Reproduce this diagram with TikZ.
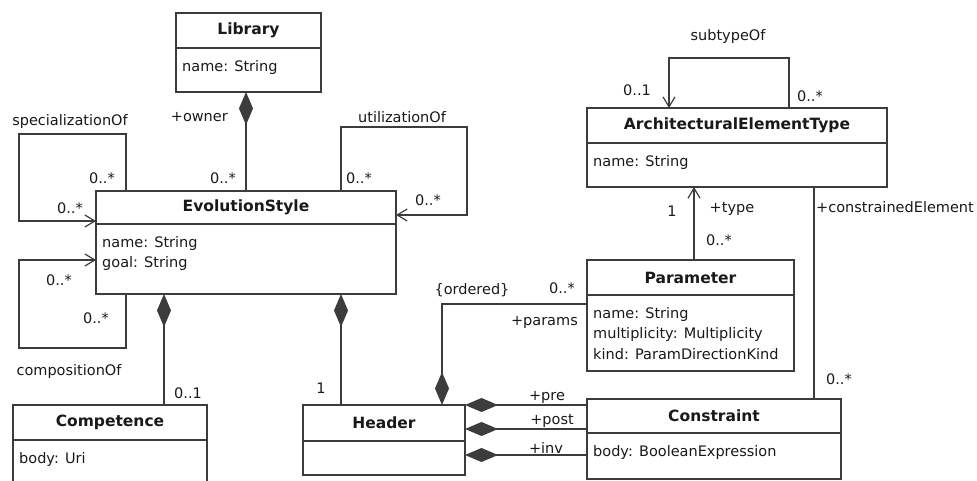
\documentclass[tikz,border=0pt]{standalone}
\usepackage{fontspec}
\setmainfont{DejaVu Sans}
\usepackage{xcolor}
\usepackage{tikz}
\usetikzlibrary{arrows.meta, positioning, calc}
\definecolor{uml_line}{RGB}{60, 60, 60}
\definecolor{uml_text}{RGB}{25, 25, 25}

\tikzset{
  class_head/.style={draw=uml_line, line width=1.2pt, inner sep=0pt, outer sep=0pt, text=uml_text, font=\fontsize{15.5}{18}\selectfont\bfseries},
  class_body/.style={draw=uml_line, line width=1.2pt, inner sep=0pt, outer sep=0pt},
  attr_text/.style={anchor=north west, inner xsep=6pt, inner ysep=12pt, align=left, text=uml_text, font=\fontsize{14.5}{20.5}\selectfont},
  role_text/.style={inner sep=0pt, text=uml_text, font=\fontsize{14.5}{17}\selectfont},
  assoc/.style={draw=uml_line, line width=1.2pt},
  composite/.style={assoc, {Diamond[fill=uml_line, length=33pt, width=14pt]}-},
  navigable/.style={assoc, -{Straight Barb[length=10pt, width=12pt]}},
}

\begin{document}
\begin{tikzpicture}[x=1pt, y=-1pt]
  \path[use as bounding box, clip] (0,0) rectangle (977,481);

  % classes
  \node[class_head, minimum width=145pt, minimum height=35pt, anchor=north west] (lib_head) at (176,13) {Library};
  \node[class_body, minimum width=145pt, minimum height=44pt, below=0pt of lib_head] (lib_body) {};
  \node[attr_text] (lib_attr) at (lib_body.north west) {name: String};

  \node[class_head, minimum width=300pt, minimum height=33pt, anchor=north west] (es_head) at (96,191) {EvolutionStyle};
  \node[class_body, minimum width=300pt, minimum height=70pt, below=0pt of es_head] (es_body) {};
  \node[attr_text] (es_attr) at (es_body.north west) {name: String\\goal: String};

  \node[class_head, minimum width=300pt, minimum height=35pt, anchor=north west] (aet_head) at (587,108) {ArchitecturalElementType};
  \node[class_body, minimum width=300pt, minimum height=44pt, below=0pt of aet_head] (aet_body) {};
  \node[attr_text] (aet_attr) at (aet_body.north west) {name: String};

  \node[class_head, minimum width=207pt, minimum height=35pt, anchor=north west] (par_head) at (587,260) {Parameter};
  \node[class_body, minimum width=207pt, minimum height=76pt, below=0pt of par_head] (par_body) {};
  \node[attr_text] (par_attr) at (par_body.north west) {name: String\\multiplicity: Multiplicity\\kind: ParamDirectionKind};

  \node[class_head, minimum width=194pt, minimum height=35pt, anchor=north west] (comp_head) at (13,405) {Competence};
  \node[class_body, minimum width=194pt, minimum height=80pt, below=0pt of comp_head] (comp_body) {};
  \node[attr_text] (comp_attr) at (comp_body.north west) {body: Uri};

  \node[class_head, minimum width=162pt, minimum height=36pt, anchor=north west] (hdr_head) at (303,405) {Header};
  \node[class_body, minimum width=162pt, minimum height=34pt, below=0pt of hdr_head] (hdr_body) {};

  \node[class_head, minimum width=254pt, minimum height=34pt, anchor=north west] (con_head) at (587,399) {Constraint};
  \node[class_body, minimum width=254pt, minimum height=46pt, below=0pt of con_head] (con_body) {};
  \node[attr_text] (con_attr) at (con_body.north west) {body: BooleanExpression};

  % loop corners
  \coordinate (spec_corner)  at (19,134);
  \coordinate (compo_corner) at (19,348);
  \coordinate (util_corner)  at (467,127);
  \coordinate (sub_corner)   at (669,58);

  % associations
  \draw[composite] (lib_body.south -| es_head.north) -- (es_head.north);
  \draw[navigable] ([xshift=30pt]es_head.north west) |- (spec_corner) |- ([yshift=-13.5pt]es_head.west);
  \draw[navigable] ([xshift=30pt]es_body.south west) |- (compo_corner) |- ([yshift=-1pt]es_body.west);
  \draw[navigable] ([xshift=-55pt]es_head.north east) |- (util_corner) |- ([yshift=-7.5pt]es_head.east);
  \draw[composite] ([xshift=68pt]es_body.south west) -- ([xshift=68pt]es_body.south west |- comp_head.north);
  \draw[composite] ([xshift=-55pt]es_body.south east) -- ([xshift=-55pt]es_body.south east |- hdr_head.north);
  \draw[composite] ([xshift=58pt]hdr_head.north) |- ([yshift=-9pt]par_head.south west);
  \draw[composite] (hdr_head.north east) -- (hdr_head.north east -| con_head.west);
  \draw[composite] ([yshift=-6pt]hdr_head.east) -- ([yshift=-6pt]hdr_head.east -| con_head.west);
  \draw[composite] ([yshift=3pt]hdr_body.east) -- ([yshift=3pt]hdr_body.east -| con_body.west);
  \draw[navigable] ([xshift=3.5pt]par_head.north) -- ([xshift=3.5pt]par_head.north |- aet_body.south);
  \draw[assoc] ([xshift=100pt]con_head.north) -- ([xshift=100pt]con_head.north |- aet_body.south);
  \draw[navigable] ([xshift=52pt]aet_head.north) |- (sub_corner) -- (sub_corner |- aet_head.north);

  % roles and multiplicities
  \node[role_text, anchor=east] (lbl_owner)       at (228,117) {+owner};
  \node[role_text, anchor=east] (lbl_lib_mult)    at (236,178) {0..*};
  \node[role_text]              (lbl_spec)        at (70,122)  {specializationOf};
  \node[role_text]              (lbl_spec_src)    at (102,178) {0..*};
  \node[role_text]              (lbl_spec_dst)    at (70,208)  {0..*};
  \node[role_text]              (lbl_util)        at (402,117) {utilizationOf};
  \node[role_text]              (lbl_util_src)    at (359,178) {0..*};
  \node[role_text]              (lbl_util_dst)    at (428,200) {0..*};
  \node[role_text]              (lbl_compo_dst)   at (59,280)  {0..*};
  \node[role_text]              (lbl_compo_src)   at (96,318)  {0..*};
  \node[role_text]              (lbl_compo)       at (69,371)  {compositionOf};
  \node[role_text]              (lbl_comp_mult)   at (188,393) {0..1};
  \node[role_text]              (lbl_hdr_mult)    at (321,388) {1};
  \node[role_text]              (lbl_ordered)     at (472,290) {\{ordered\}};
  \node[role_text]              (lbl_params_mult) at (562,288) {0..*};
  \node[role_text, anchor=east] (lbl_params)      at (578,322) {+params};
  \node[role_text]              (lbl_pre)         at (547,397) {+pre};
  \node[role_text]              (lbl_post)        at (552,421) {+post};
  \node[role_text]              (lbl_inv)         at (546,448) {+inv};
  \node[role_text]              (lbl_type_one)    at (672,211) {1};
  \node[role_text]              (lbl_type)        at (732,209) {+type};
  \node[role_text]              (lbl_type_mult)   at (719,240) {0..*};
  \node[role_text, anchor=west] (lbl_constr)      at (816,207) {+constrainedElement};
  \node[role_text]              (lbl_constr_mult) at (839,379) {0..*};
  \node[role_text]              (lbl_subtype)     at (728,37)  {subtypeOf};
  \node[role_text]              (lbl_sub_dst)     at (637,90)  {0..1};
  \node[role_text]              (lbl_sub_src)     at (810,96)  {0..*};
\end{tikzpicture}
\end{document}
